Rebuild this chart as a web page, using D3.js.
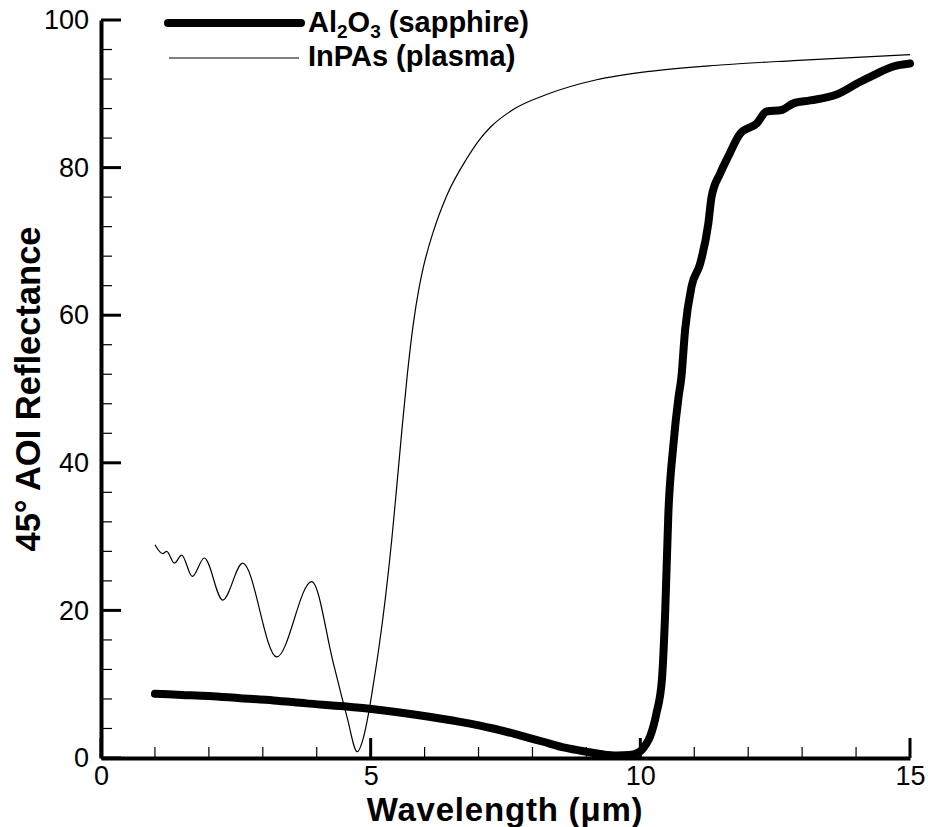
<!DOCTYPE html>
<html>
<head>
<meta charset="utf-8">
<script src="https://cdn.jsdelivr.net/npm/d3@7"></script>
<style>
  html, body { margin: 0; padding: 0; background: #fff; }
  svg { display: block; }
  text { font-family: Arial, "Liberation Sans", Helvetica, sans-serif; fill: #000; }
</style>
</head>
<body>
<svg id="chart" width="928" height="827"></svg>
<script>
// Axis ticks
const xMajorTicks = [0, 5, 10, 15];
const xMinorTicks = [1, 2, 3, 4, 6, 7, 8, 9, 11, 12, 13, 14];
const yMajorTicks = [0, 20, 40, 60, 80, 100];
const yMinorTicks = [4, 8, 12, 16, 24, 28, 32, 36, 44, 48, 52, 56, 64, 68, 72, 76, 84, 88, 92, 96];

// Al2O3 (sapphire) reflectance, wavelength in µm vs. percent
const sapphireWavelength = [1.0, 1.5, 2.0, 2.58, 3.2, 3.81, 4.5, 5.17, 5.9, 6.66, 7.27, 7.75, 8.2, 8.6, 9.0, 9.3, 9.56, 9.8, 9.99, 10.1, 10.18, 10.3, 10.4, 10.46, 10.52, 10.61, 10.71, 10.76, 10.83, 10.95, 11.11, 11.26, 11.32, 11.48, 11.63, 11.85, 12.16, 12.34, 12.62, 12.84, 13.15, 13.64, 14.07, 14.32, 14.69, 15.0];
const sapphireReflectance = [8.7, 8.55, 8.4, 8.1, 7.8, 7.4, 7.0, 6.5, 5.8, 4.9, 4.0, 3.1, 2.2, 1.4, 0.85, 0.5, 0.35, 0.4, 0.85, 1.8, 2.9, 6.1, 10.6, 19.6, 33.2, 42.2, 49.0, 51.5, 58.0, 63.9, 67.0, 72.4, 76.0, 79.2, 81.5, 84.6, 86.0, 87.6, 87.8, 88.7, 89.1, 89.9, 91.6, 92.5, 93.7, 94.1];

// InPAs (plasma) reflectance
const plasmaWavelength = [1.0, 1.144, 1.218, 1.36, 1.496, 1.693, 1.915, 2.257, 2.627, 3.258, 3.907, 4.31, 4.56, 4.752, 4.86, 4.96, 5.05, 5.15, 5.27, 5.39, 5.48, 5.58, 5.68, 5.79, 5.9, 5.98, 6.16, 6.41, 6.78, 7.03, 7.21, 7.65, 8.26, 9.19, 10.12, 11.48, 12.84, 15.0];
const plasmaReflectance = [28.9, 27.7, 28.0, 26.4, 27.5, 24.6, 27.1, 21.4, 26.4, 13.7, 23.9, 12.8, 5.6, 0.85, 2.6, 6.0, 10.0, 14.8, 21.5, 29.5, 36.5, 44.5, 52.0, 58.8, 63.8, 66.6, 71.3, 76.2, 81.2, 83.9, 85.4, 87.9, 89.9, 91.9, 93.0, 93.9, 94.5, 95.3];

const svg = d3.select("#chart");

const x = d3.scaleLinear().domain([0, 15]).range([101, 910]);
const y = d3.scaleLinear().domain([0, 100]).range([758, 20]);

// Tick marks, drawn inward from the axes
const ticks = svg.append("g").attr("stroke", "#000");
ticks.selectAll("line.xminor").data(xMinorTicks).join("line")
  .attr("class", "xminor")
  .attr("x1", d => x(d)).attr("x2", d => x(d))
  .attr("y1", y(0)).attr("y2", y(0) - 11)
  .attr("stroke-width", 1.2);
ticks.selectAll("line.yminor").data(yMinorTicks).join("line")
  .attr("class", "yminor")
  .attr("x1", x(0)).attr("x2", x(0) + 11)
  .attr("y1", d => y(d)).attr("y2", d => y(d))
  .attr("stroke-width", 1.2);
ticks.selectAll("line.xmajor").data(xMajorTicks).join("line")
  .attr("class", "xmajor")
  .attr("x1", d => x(d)).attr("x2", d => x(d))
  .attr("y1", y(0)).attr("y2", y(0) - 20)
  .attr("stroke-width", 3);
ticks.selectAll("line.ymajor").data(yMajorTicks).join("line")
  .attr("class", "ymajor")
  .attr("x1", x(0)).attr("x2", x(0) + 20)
  .attr("y1", d => y(d)).attr("y2", d => y(d))
  .attr("stroke-width", 3);

// Axis lines and labels
const xAxis = svg.append("g")
  .attr("transform", `translate(0,${y(0)})`)
  .call(d3.axisBottom(x).tickValues(xMajorTicks).tickSize(0).tickPadding(8).tickFormat(d3.format("d")));
xAxis.select(".domain").attr("stroke", "#000").attr("stroke-width", 4);
xAxis.selectAll(".tick text").attr("font-size", 27).attr("fill", "#000");

const yAxis = svg.append("g")
  .attr("transform", `translate(${x(0)},0)`)
  .call(d3.axisLeft(y).tickValues(yMajorTicks).tickSize(0).tickPadding(12).tickFormat(d3.format("d")));
yAxis.select(".domain").attr("stroke", "#000").attr("stroke-width", 4);
yAxis.selectAll(".tick text").attr("font-size", 27).attr("fill", "#000");

// Curves
const sapphire = sapphireWavelength.map((w, i) => [w, sapphireReflectance[i]]);
const plasma = plasmaWavelength.map((w, i) => [w, plasmaReflectance[i]]);

svg.append("path")
  .datum(plasma)
  .attr("fill", "none")
  .attr("stroke", "#000")
  .attr("stroke-width", 1.2)
  .attr("d", d3.line().x(d => x(d[0])).y(d => y(d[1])).curve(d3.curveMonotoneX));

svg.append("path")
  .datum(sapphire)
  .attr("fill", "none")
  .attr("stroke", "#000")
  .attr("stroke-width", 8)
  .attr("stroke-linecap", "round")
  .attr("stroke-linejoin", "round")
  .attr("d", d3.line().x(d => x(d[0])).y(d => y(d[1])).curve(d3.curveMonotoneX));

// Legend
const legend = svg.append("g");
legend.append("line")
  .attr("x1", 168).attr("x2", 301).attr("y1", 23).attr("y2", 23)
  .attr("stroke", "#000").attr("stroke-width", 8).attr("stroke-linecap", "round");
legend.append("line")
  .attr("x1", 169).attr("x2", 299).attr("y1", 58).attr("y2", 58)
  .attr("stroke", "#000").attr("stroke-width", 1.2);

const t1 = legend.append("text").attr("x", 308).attr("y", 32)
  .attr("font-size", 29).attr("font-weight", "bold");
t1.append("tspan").text("Al");
t1.append("tspan").attr("font-size", 19).attr("dy", 6).text("2");
t1.append("tspan").attr("dy", -6).text("O");
t1.append("tspan").attr("font-size", 19).attr("dy", 6).text("3");
t1.append("tspan").attr("dy", -6).text(" (sapphire)");

legend.append("text").attr("x", 308).attr("y", 66)
  .attr("font-size", 29).attr("font-weight", "bold")
  .text("InPAs (plasma)");

// Axis titles
svg.append("text")
  .attr("x", 505).attr("y", 821)
  .attr("text-anchor", "middle")
  .attr("font-size", 33).attr("font-weight", "bold")
  .attr("letter-spacing", 0.8)
  .text("Wavelength (\u03bcm)");

svg.append("text")
  .attr("transform", "translate(40,389) rotate(-90)")
  .attr("text-anchor", "middle")
  .attr("font-size", 34.5).attr("font-weight", "bold")
  .text("45\u00b0 AOI Reflectance");
</script>
</body>
</html>
